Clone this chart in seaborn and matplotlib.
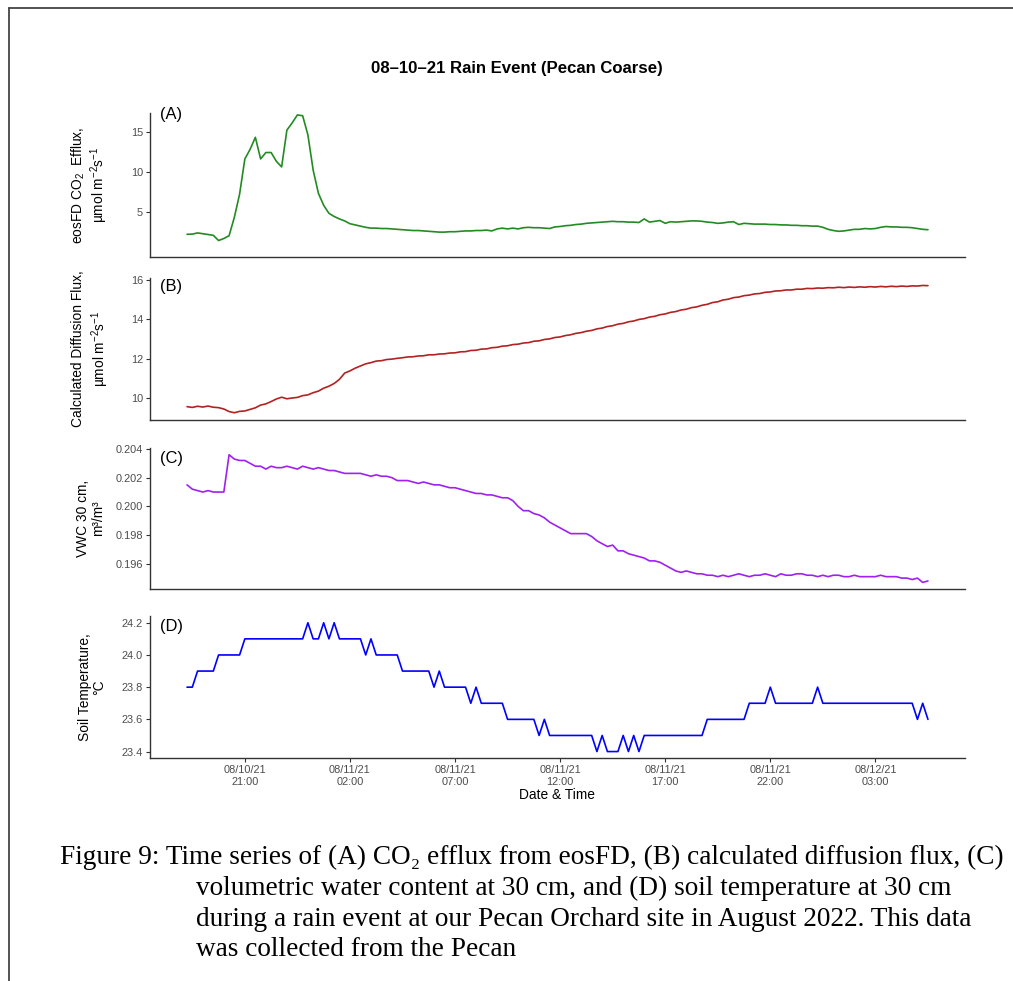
import pandas as pd
import matplotlib
matplotlib.use("Agg")
import matplotlib.pyplot as plt
import matplotlib.dates as mdates
from matplotlib.lines import Line2D
import seaborn as sns

# 15-minute records, 08/10/21 18:15 onwards
start_time = "2021-08-10 18:15"

efflux = [
    2.18, 2.20, 2.35, 2.25, 2.15, 2.05, 1.40, 1.65, 2.00, 4.30,
    7.20, 11.60, 12.80, 14.30, 11.60, 12.40, 12.40, 11.30, 10.60, 15.20,
    16.10, 17.10, 17.00, 14.60, 10.20, 7.30, 5.80, 4.80, 4.40, 4.10,
    3.85, 3.50, 3.35, 3.20, 3.05, 2.95, 2.95, 2.90, 2.90, 2.85,
    2.80, 2.75, 2.70, 2.65, 2.65, 2.60, 2.55, 2.50, 2.45, 2.45,
    2.50, 2.50, 2.55, 2.60, 2.60, 2.65, 2.65, 2.70, 2.60, 2.85,
    2.95, 2.85, 2.95, 2.85, 3.00, 3.05, 3.00, 3.00, 2.95, 2.90,
    3.10, 3.15, 3.25, 3.30, 3.40, 3.45, 3.55, 3.60, 3.65, 3.70,
    3.75, 3.80, 3.75, 3.75, 3.70, 3.70, 3.65, 4.10, 3.70, 3.80,
    3.90, 3.55, 3.75, 3.70, 3.75, 3.80, 3.85, 3.85, 3.80, 3.70,
    3.65, 3.55, 3.60, 3.70, 3.75, 3.40, 3.55, 3.50, 3.45, 3.45,
    3.45, 3.40, 3.40, 3.35, 3.35, 3.30, 3.30, 3.25, 3.25, 3.20,
    3.20, 3.05, 2.80, 2.65, 2.55, 2.60, 2.70, 2.80, 2.80, 2.90,
    2.85, 2.90, 3.05, 3.15, 3.10, 3.10, 3.05, 3.05, 3.00, 2.90,
    2.80, 2.75,
]

diffusion = [
    9.55, 9.51, 9.57, 9.53, 9.58, 9.52, 9.50, 9.43, 9.30, 9.24,
    9.31, 9.33, 9.41, 9.49, 9.63, 9.69, 9.81, 9.94, 10.03, 9.95,
    9.99, 10.02, 10.11, 10.15, 10.26, 10.34, 10.49, 10.59, 10.73, 10.94,
    11.26, 11.37, 11.51, 11.62, 11.73, 11.79, 11.87, 11.89, 11.95, 11.97,
    12.01, 12.04, 12.08, 12.09, 12.13, 12.14, 12.19, 12.19, 12.23, 12.24,
    12.28, 12.29, 12.34, 12.35, 12.41, 12.42, 12.48, 12.49, 12.55, 12.57,
    12.63, 12.65, 12.71, 12.73, 12.79, 12.81, 12.88, 12.90, 12.97, 13.00,
    13.07, 13.10, 13.17, 13.21, 13.28, 13.32, 13.39, 13.43, 13.51, 13.55,
    13.63, 13.67, 13.75, 13.79, 13.87, 13.91, 13.99, 14.03, 14.11, 14.15,
    14.23, 14.27, 14.35, 14.39, 14.47, 14.51, 14.59, 14.63, 14.71, 14.76,
    14.85, 14.89, 14.98, 15.02, 15.10, 15.13, 15.20, 15.23, 15.29, 15.31,
    15.37, 15.39, 15.44, 15.45, 15.49, 15.49, 15.53, 15.53, 15.57, 15.56,
    15.59, 15.58, 15.61, 15.60, 15.63, 15.61, 15.64, 15.62, 15.65, 15.63,
    15.66, 15.64, 15.67, 15.65, 15.68, 15.66, 15.69, 15.67, 15.70, 15.69,
    15.72, 15.71,
]

vwc = [
    0.2015, 0.2012, 0.2011, 0.2010, 0.2011, 0.2010, 0.2010, 0.2010, 0.2036, 0.2033,
    0.2032, 0.2032, 0.2030, 0.2028, 0.2028, 0.2026, 0.2028, 0.2027, 0.2027, 0.2028,
    0.2027, 0.2026, 0.2028, 0.2027, 0.2026, 0.2027, 0.2026, 0.2025, 0.2025, 0.2024,
    0.2023, 0.2023, 0.2023, 0.2023, 0.2022, 0.2021, 0.2022, 0.2021, 0.2021, 0.2020,
    0.2018, 0.2018, 0.2018, 0.2017, 0.2016, 0.2017, 0.2016, 0.2015, 0.2015, 0.2014,
    0.2013, 0.2013, 0.2012, 0.2011, 0.2010, 0.2009, 0.2009, 0.2008, 0.2008, 0.2007,
    0.2006, 0.2006, 0.2004, 0.2000, 0.1997, 0.1997, 0.1995, 0.1994, 0.1992, 0.1989,
    0.1987, 0.1985, 0.1983, 0.1981, 0.1981, 0.1981, 0.1981, 0.1979, 0.1976, 0.1974,
    0.1972, 0.1973, 0.1969, 0.1969, 0.1967, 0.1966, 0.1965, 0.1964, 0.1962, 0.1962,
    0.1961, 0.1959, 0.1957, 0.1955, 0.1954, 0.1955, 0.1954, 0.1953, 0.1953, 0.1952,
    0.1952, 0.1951, 0.1952, 0.1951, 0.1952, 0.1953, 0.1952, 0.1951, 0.1952, 0.1952,
    0.1953, 0.1952, 0.1951, 0.1953, 0.1952, 0.1952, 0.1953, 0.1953, 0.1952, 0.1952,
    0.1951, 0.1952, 0.1951, 0.1952, 0.1952, 0.1951, 0.1951, 0.1952, 0.1951, 0.1951,
    0.1951, 0.1951, 0.1952, 0.1951, 0.1951, 0.1951, 0.1950, 0.1950, 0.1949, 0.1950,
    0.1947, 0.1948,
]

soil_temp = [
    23.8, 23.8, 23.9, 23.9, 23.9, 23.9, 24.0, 24.0, 24.0, 24.0,
    24.0, 24.1, 24.1, 24.1, 24.1, 24.1, 24.1, 24.1, 24.1, 24.1,
    24.1, 24.1, 24.1, 24.2, 24.1, 24.1, 24.2, 24.1, 24.2, 24.1,
    24.1, 24.1, 24.1, 24.1, 24.0, 24.1, 24.0, 24.0, 24.0, 24.0,
    24.0, 23.9, 23.9, 23.9, 23.9, 23.9, 23.9, 23.8, 23.9, 23.8,
    23.8, 23.8, 23.8, 23.8, 23.7, 23.8, 23.7, 23.7, 23.7, 23.7,
    23.7, 23.6, 23.6, 23.6, 23.6, 23.6, 23.6, 23.5, 23.6, 23.5,
    23.5, 23.5, 23.5, 23.5, 23.5, 23.5, 23.5, 23.5, 23.4, 23.5,
    23.4, 23.4, 23.4, 23.5, 23.4, 23.5, 23.4, 23.5, 23.5, 23.5,
    23.5, 23.5, 23.5, 23.5, 23.5, 23.5, 23.5, 23.5, 23.5, 23.6,
    23.6, 23.6, 23.6, 23.6, 23.6, 23.6, 23.6, 23.7, 23.7, 23.7,
    23.7, 23.8, 23.7, 23.7, 23.7, 23.7, 23.7, 23.7, 23.7, 23.7,
    23.8, 23.7, 23.7, 23.7, 23.7, 23.7, 23.7, 23.7, 23.7, 23.7,
    23.7, 23.7, 23.7, 23.7, 23.7, 23.7, 23.7, 23.7, 23.7, 23.6,
    23.7, 23.6,
]

x_tick_times = ["2021-08-10 21:00", "2021-08-11 02:00", "2021-08-11 07:00",
                "2021-08-11 12:00", "2021-08-11 17:00", "2021-08-11 22:00",
                "2021-08-12 03:00"]

title_text = "08\u201310\u201321 Rain Event (Pecan Coarse)"
x_title = "Date & Time"
caption_lines = [
    "Figure 9: Time series of (A) CO\u2082 efflux from eosFD, (B) calculated diffusion flux, (C)",
    "volumetric water content at 30 cm, and (D) soil temperature at 30 cm",
    "during a rain event at our Pecan Orchard site in August 2022. This data",
    "was collected from the Pecan",
]

times = pd.date_range(start_time, periods=len(efflux), freq="15min")
df = pd.DataFrame({"time": times, "efflux": efflux, "diffusion": diffusion,
                   "vwc": vwc, "soil_temp": soil_temp})

sns.set_style("ticks")
plt.rcParams["font.family"] = ["Liberation Sans", "DejaVu Sans"]
plt.rcParams["mathtext.fontset"] = "custom"
plt.rcParams["mathtext.rm"] = "Liberation Sans"
plt.rcParams["mathtext.it"] = "Liberation Sans:italic"
plt.rcParams["mathtext.bf"] = "Liberation Sans:bold"

W, H = 1013, 981
fig = plt.figure(figsize=(W / 100, H / 100), dpi=100)
fig.patch.set_facecolor("white")


def fx(px):
    return px / W


def fy(py):
    return 1 - py / H


LEFT, RIGHT = 150, 965
span = times[-1] - times[0]
xlim = (mdates.date2num(times[0] - 0.05 * span), mdates.date2num(times[-1] + 0.05 * span))
tick_nums = [mdates.date2num(pd.Timestamp(t)) for t in x_tick_times]

panels = [
    dict(col="efflux", color="#228B22", top=113, bottom=257, ylim=(-0.66, 17.34),
         yticks=[5, 10, 15], fmt="{:.0f}", tag="(A)", tag_y=114,
         labels=[("eosFD CO$_2$  Efflux,", 78), ("\u00b5mol m$^{-2}$s$^{-1}$", 99)]),
    dict(col="diffusion", color="#B22222", top=278, bottom=420, ylim=(8.87, 16.1),
         yticks=[10, 12, 14, 16], fmt="{:.0f}", tag="(B)", tag_y=287,
         labels=[("Calculated Diffusion Flux,", 78), ("\u00b5mol m$^{-2}$s$^{-1}$", 100)]),
    dict(col="vwc", color="#A020F0", top=448, bottom=589, ylim=(0.19424, 0.20407),
         yticks=[0.196, 0.198, 0.200, 0.202, 0.204], fmt="{:.3f}", tag="(C)", tag_y=458,
         labels=[("VWC 30 cm,", 83), ("m\u00b3/m\u00b3", 98)]),
    dict(col="soil_temp", color="#0000FF", top=616, bottom=758, ylim=(23.36, 24.242),
         yticks=[23.4, 23.6, 23.8, 24.0, 24.2], fmt="{:.1f}", tag="(D)", tag_y=626,
         labels=[("Soil Temperature,", 85), ("\u00b0C", 99)]),
]

axis_color = "#333333"
tick_label_color = "#4D4D4D"

for k, p in enumerate(panels):
    ax = fig.add_axes([fx(LEFT), fy(p["bottom"]), (RIGHT - LEFT) / W,
                       (p["bottom"] - p["top"]) / H])
    sns.lineplot(data=df, x="time", y=p["col"], color=p["color"], linewidth=1.2, ax=ax)
    ax.set_xlim(*xlim)
    ax.set_ylim(*p["ylim"])
    ax.set_xlabel("")
    ax.set_ylabel("")
    ax.set_yticks(p["yticks"])
    ax.set_yticklabels([p["fmt"].format(v) for v in p["yticks"]])
    ax.set_xticks(tick_nums)
    ax.xaxis.set_major_formatter(mdates.DateFormatter("%m/%d/%y\n%H:%M"))
    for side in ("top", "right"):
        ax.spines[side].set_visible(False)
    for side in ("left", "bottom"):
        ax.spines[side].set_color(axis_color)
        ax.spines[side].set_linewidth(1.0)
    ax.tick_params(axis="y", length=3, width=0.8, color=axis_color, pad=2,
                   labelsize=7.9, labelcolor=tick_label_color)
    if k < len(panels) - 1:
        ax.tick_params(axis="x", bottom=False, labelbottom=False)
    else:
        ax.tick_params(axis="x", length=3, width=0.8, color=axis_color, pad=2,
                       labelsize=7.9, labelcolor=tick_label_color)
    ax.grid(False)
    ax.set_facecolor("white")

    center = (p["top"] + p["bottom"]) / 2
    for text, xpos in p["labels"]:
        fig.text(fx(xpos), fy(center), text, rotation=90, ha="center", va="center",
                 fontsize=9.9, color="black")
    fig.text(fx(160), fy(p["tag_y"]), p["tag"], ha="left", va="center",
             fontsize=11.9, color="black")

fig.text(fx(557), fy(795), x_title, ha="center", va="center", fontsize=9.9, color="black")
fig.text(fx(517), fy(68), title_text, ha="center", va="center", fontsize=12.1,
         fontweight="bold", color="black")

# caption block in a serif face, first line sized to span its measured width
serif = ["Liberation Serif", "DejaVu Serif"]
cap_fs = 17.0
cap_y = [857, 888, 919, 949]
cap_x = [60, 196, 196, 196]
cap_texts = []
for line, xp, yp in zip(caption_lines, cap_x, cap_y):
    cap_texts.append(fig.text(fx(xp), fy(yp), line, ha="left", va="center",
                              fontsize=cap_fs, family=serif, color="black"))
fig.canvas.draw()
w0 = cap_texts[0].get_window_extent().width
new_fs = cap_fs * 943 / w0
for t in cap_texts:
    t.set_fontsize(new_fs)

# page frame
frame_kw = dict(color="#444444", linewidth=1.3, transform=fig.transFigure)
fig.add_artist(Line2D([fx(9), 1.0], [fy(8), fy(8)], **frame_kw))
fig.add_artist(Line2D([fx(9), fx(9)], [fy(8), 0.0], **frame_kw))

fig.savefig("out.png", dpi=100, facecolor="white")
